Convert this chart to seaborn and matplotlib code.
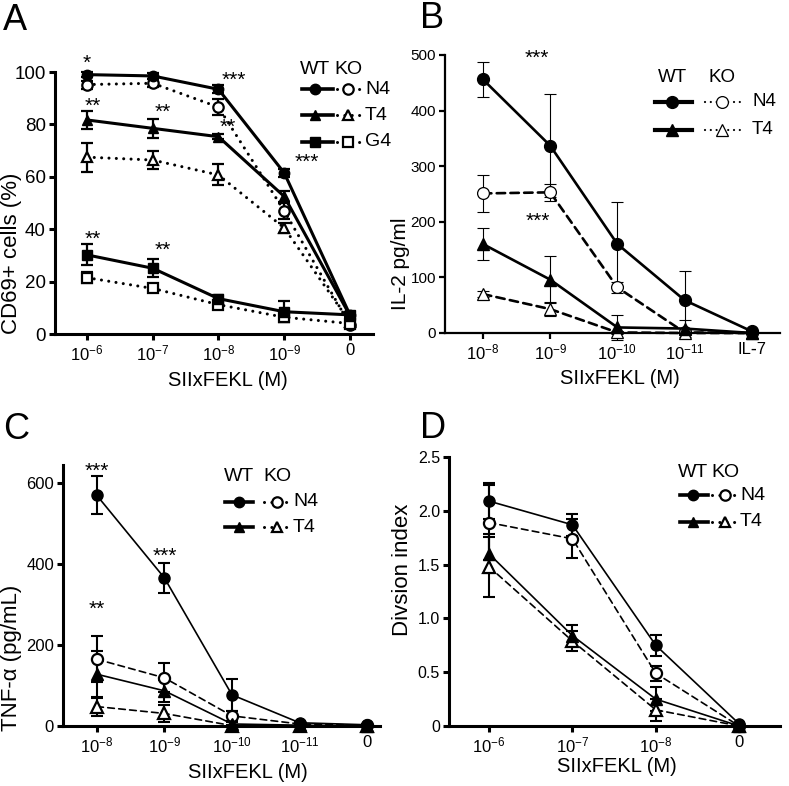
import numpy as np
import matplotlib
matplotlib.use('Agg')
import matplotlib.pyplot as plt
import seaborn as sns
from matplotlib.lines import Line2D

# ---- data ----
a_ticks = ['10^{-6}', '10^{-7}', '10^{-8}', '10^{-9}', '0']
a_wt_n4 = [99, 98.5, 93.4, 61.5, 7.3]
a_wt_n4_err = [1, 1, 1.5, 1.5, 1]
a_ko_n4 = [95.2, 95.7, 86.6, 47, 3.5]
a_ko_n4_err = [1.5, 1.5, 3, 3, 1]
a_wt_t4 = [81.7, 78.5, 75.3, 52.5, 7]
a_wt_t4_err = [3.5, 3.5, 1, 2, 1]
a_ko_t4 = [67.5, 66.4, 60.7, 40.5, 4.5]
a_ko_t4_err = [5.5, 3.5, 4, 2, 1]
a_wt_g4 = [30.2, 25.1, 13.5, 8.5, 7.3]
a_wt_g4_err = [4, 3.5, 1.5, 4, 1]
a_ko_g4 = [21.5, 17.4, 11.2, 6.4, 4]
a_ko_g4_err = [2, 1.5, 1.5, 2, 1]
a_stars = [('*', 0, 103.5), ('**', 0.09, 87), ('**', 1.15, 84.5), ('***', 2.24, 97),
           ('**', 2.14, 79), ('***', 3.35, 65.4), ('**', 0.09, 36), ('**', 1.15, 32)]

b_ticks = ['10^{-8}', '10^{-9}', '10^{-10}', '10^{-11}', 'IL\u20117']
b_wt_n4 = [456, 337, 160, 59, 3]
b_wt_n4_err = [32, 92, 75, 53, 2]
b_ko_n4 = [251, 253, 82, 1, 0]
b_ko_n4_err = [33, 15, 10, 2, 0]
b_wt_t4 = [160, 96, 10, 8, 0]
b_wt_t4_err = [28, 42, 22, 15, 0]
b_ko_t4 = [70, 43, 1, 0, 0]
b_ko_t4_err = [5, 13, 2, 0, 0]
b_stars = [('***', 0.8, 494), ('***', 0.82, 201)]

c_ticks = ['10^{-8}', '10^{-9}', '10^{-10}', '10^{-11}', '0']
c_wt_n4 = [570, 366, 77, 8, 3]
c_wt_n4_err = [47, 38, 40, 3, 2]
c_ko_n4 = [165, 119, 25, 5, 2]
c_ko_n4_err = [57, 36, 12, 2, 1]
c_wt_t4 = [128, 87, 5, 2, 0]
c_wt_t4_err = [58, 27, 5, 2, 0]
c_ko_t4 = [48, 31, 1, 0, 0]
c_ko_t4_err = [23, 20, 2, 0, 0]
c_stars = [('***', 0, 630), ('***', 1, 420), ('**', 0, 289)]

d_ticks = ['10^{-6}', '10^{-7}', '10^{-8}', '0']
d_wt_n4 = [2.09, 1.87, 0.75, 0.02]
d_wt_n4_err = [0.17, 0.1, 0.1, 0]
d_ko_n4 = [1.89, 1.74, 0.49, 0.0]
d_ko_n4_err = [0.35, 0.18, 0.07, 0]
d_wt_t4 = [1.60, 0.84, 0.25, 0.0]
d_wt_t4_err = [0.18, 0.1, 0.11, 0]
d_ko_t4 = [1.48, 0.79, 0.15, 0.0]
d_ko_t4_err = [0.28, 0.09, 0.1, 0]

plt.rcParams['font.family'] = ['Liberation Sans', 'DejaVu Sans']

W, H = 789, 786
fig = plt.figure(figsize=(W / 100, H / 100), dpi=100)


def add_ax(left, top, right, bottom):
    return fig.add_axes([left / W, 1 - bottom / H, (right - left) / W, (bottom - top) / H])


def fx(x):
    return x / W


def fy(y):
    return 1 - y / H


def series(ax, y, err, marker, filled, ls, lw, ms, mew, elw, cap):
    x = np.arange(len(y))
    eb = ax.errorbar(x, y, yerr=err, fmt='none', ecolor='black', elinewidth=elw,
                     capsize=cap, capthick=elw, zorder=2)
    for art in eb.lines[1] + eb.lines[2]:
        art.set_clip_on(False)
    sns.lineplot(x=x, y=y, ax=ax, color='black', linestyle=ls, lw=lw, marker=marker,
                 ms=ms, mfc='black' if filled else 'white', mec='black', mew=mew,
                 errorbar=None, zorder=3, clip_on=False, dash_capstyle='round')


def style_axes(ax, ticks, xlim, ylim, yticks, spine_lw, ylabel, ylab_pos, xlabel, xlab_pos,
               ytick_fs, ylab_fs=16, xtick_fs=12):
    ax.set_xlim(*xlim)
    ax.set_ylim(*ylim)
    ax.set_xticks(range(len(ticks)))
    ax.set_xticklabels([r'$\mathregular{%s}$' % t if '^' in t else t for t in ticks])
    ax.set_yticks(yticks)
    ax.tick_params(axis='both', width=spine_lw, length=4.5, pad=2, color='black')
    ax.tick_params(axis='x', labelsize=xtick_fs)
    ax.tick_params(axis='y', labelsize=ytick_fs)
    for s in ['top', 'right']:
        ax.spines[s].set_visible(False)
    for s in ['left', 'bottom']:
        ax.spines[s].set_linewidth(spine_lw)
        ax.spines[s].set_color('black')
    ax.set_facecolor('none')
    fig.text(fx(ylab_pos[0]), fy(ylab_pos[1]), ylabel, rotation=90, ha='center', va='center',
             fontsize=ylab_fs)
    fig.text(fx(xlab_pos[0]), fy(xlab_pos[1]), xlabel, ha='center', va='center', fontsize=14.5)


def legend(rows, hdr_y, wt_x, ko_x, wt_span, ko_span, lab_x, fs, wt_lw, ko_ls, ko_lw, ms, ko_mew):
    fig.text(fx(wt_x), fy(hdr_y), 'WT', ha='center', va='center', fontsize=fs)
    fig.text(fx(ko_x), fy(hdr_y), 'KO', ha='center', va='center', fontsize=fs)
    for name, marker, ry in rows:
        fig.add_artist(Line2D([fx(wt_span[0]), fx(wt_span[1])], [fy(ry), fy(ry)], color='black',
                              lw=wt_lw, transform=fig.transFigure))
        fig.add_artist(Line2D([fx(wt_x)], [fy(ry)], marker=marker, ms=ms, mfc='black', mec='black',
                              transform=fig.transFigure))
        fig.add_artist(Line2D([fx(ko_span[0]), fx(ko_span[1])], [fy(ry), fy(ry)], color='black',
                              lw=ko_lw, ls=ko_ls, dash_capstyle='round', transform=fig.transFigure))
        fig.add_artist(Line2D([fx(ko_x)], [fy(ry)], marker=marker, ms=ms, mfc='white', mec='black',
                              mew=ko_mew, transform=fig.transFigure))
        fig.text(fx(lab_x), fy(ry), name, ha='left', va='center', fontsize=fs)


dots = (0, (0.01, 2.4))

# ---- panel A ----
axA = add_ax(55, 72, 373, 334)
kwA = dict(lw=2.2, ms=7.5, elw=1.6, cap=4.3)
series(axA, a_ko_n4, a_ko_n4_err, 'o', False, dots, mew=1.6, **kwA)
series(axA, a_ko_t4, a_ko_t4_err, '^', False, dots, mew=1.6, **kwA)
series(axA, a_ko_g4, a_ko_g4_err, 's', False, dots, mew=1.6, **kwA)
series(axA, a_wt_n4, a_wt_n4_err, 'o', True, '-', mew=1, **kwA)
series(axA, a_wt_t4, a_wt_t4_err, '^', True, '-', mew=1, **kwA)
series(axA, a_wt_g4, a_wt_g4_err, 's', True, '-', mew=1, **kwA)
for s, x, y in a_stars:
    axA.text(x, y, s, ha='center', va='center', fontsize=15)
style_axes(axA, a_ticks, (-0.485, 4.35), (0, 100), [0, 20, 40, 60, 80, 100], 2.2,
           'CD69+ cells (%)', (12, 253), 'SIIxFEKL (M)', (228, 380), ytick_fs=13.5)
legend([('N4', 'o', 89), ('T4', '^', 115), ('G4', 's', 142)], 70, 315, 348,
       (302, 333), (337, 361), 365, 14, 2.6, dots, 2.2, 7.5, 1.6)
fig.text(fx(15), fy(21), 'A', ha='center', va='center', fontsize=26)

# ---- panel B ----
axB = add_ax(445, 55, 780, 333)
dashB = (0, (3.2, 2.0))
kwB = dict(lw=1.9, ms=8.5, elw=0.8, cap=4.3)
series(axB, b_ko_n4, b_ko_n4_err, 'o', False, dashB, mew=0.9, **kwB)
series(axB, b_ko_t4, b_ko_t4_err, '^', False, dashB, mew=0.9, **kwB)
series(axB, b_wt_n4, b_wt_n4_err, 'o', True, '-', mew=1, **kwB)
series(axB, b_wt_t4, b_wt_t4_err, '^', True, '-', mew=1, **kwB)
for s, x, y in b_stars:
    axB.text(x, y, s, ha='center', va='center', fontsize=15)
style_axes(axB, b_ticks, (-0.565, 4.42), (0, 500), [0, 100, 200, 300, 400, 500], 1.6,
           'IL-2 pg/ml', (401, 264), 'SIIxFEKL (M)', (620, 378), ytick_fs=11, ylab_fs=15)
legend([('N4', 'o', 102), ('T4', '^', 130)], 77, 672, 722,
       (655, 692), (705, 740), 752, 13.5, 3.0, (0, (0.01, 2.6)), 1.6, 8.5, 0.9)
fig.text(fx(432), fy(19), 'B', ha='center', va='center', fontsize=26)

# ---- panel C ----
axC = add_ax(63, 465, 380, 726)
dashC = (0, (4.0, 2.6))
kwC = dict(lw=1.2, ms=8, elw=1.5, cap=4.3)
series(axC, c_ko_n4, c_ko_n4_err, 'o', False, dashC, mew=1.6, **kwC)
series(axC, c_ko_t4, c_ko_t4_err, '^', False, dashC, mew=1.6, **kwC)
series(axC, c_wt_n4, c_wt_n4_err, 'o', True, '-', mew=1, **kwC)
series(axC, c_wt_t4, c_wt_t4_err, '^', True, '-', mew=1, **kwC)
for s, x, y in c_stars:
    axC.text(x, y, s, ha='center', va='center', fontsize=15)
style_axes(axC, c_ticks, (-0.5, 4.19), (0, 645), [0, 200, 400, 600], 2.2,
           'TNF-\u03b1 (pg/mL)', (12, 658), 'SIIxFEKL (M)', (248, 772), ytick_fs=12)
legend([('N4', 'o', 502), ('T4', '^', 527)], 477, 239, 277,
       (225, 253), (264, 290), 293, 14, 2.6, (0, (0.01, 2.4)), 2.2, 7.5, 1.6)
fig.text(fx(16), fy(430), 'C', ha='center', va='center', fontsize=26)

# ---- panel D ----
axD = add_ax(449, 457, 780, 726)
kwD = dict(lw=1.2, ms=8, elw=1.5, cap=4.3)
series(axD, d_ko_n4, d_ko_n4_err, 'o', False, dashC, mew=1.6, **kwD)
series(axD, d_ko_t4, d_ko_t4_err, '^', False, dashC, mew=1.6, **kwD)
series(axD, d_wt_n4, d_wt_n4_err, 'o', True, '-', mew=1, **kwD)
series(axD, d_wt_t4, d_wt_t4_err, '^', True, '-', mew=1, **kwD)
style_axes(axD, d_ticks, (-0.48, 3.49), (0, 2.5), [0, 0.5, 1.0, 1.5, 2.0, 2.5], 2.2,
           'Divsion index', (402, 570), 'SIIxFEKL (M)', (617, 767), ytick_fs=11.5)
axD.set_yticklabels(['0', '0.5', '1.0', '1.5', '2.0', '2.5'])
legend([('N4', 'o', 495), ('T4', '^', 522)], 472, 693, 725,
       (680, 708), (712, 738), 740, 14, 2.6, (0, (0.01, 2.4)), 2.2, 7.5, 1.6)
fig.text(fx(433), fy(429), 'D', ha='center', va='center', fontsize=26)

fig.savefig('out.png', dpi=100)
